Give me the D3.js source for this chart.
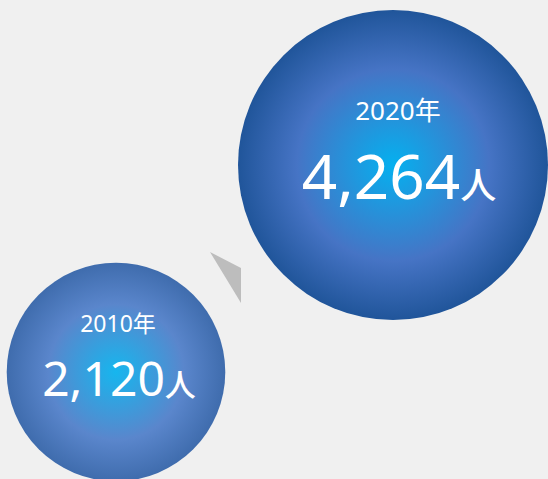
<!DOCTYPE html>
<html>
<head>
<meta charset="utf-8">
<script src="https://cdn.jsdelivr.net/npm/d3@7"></script>
<style>
  html, body { margin: 0; padding: 0; background: #f0f0f0; }
  svg { display: block; font-family: "Noto Sans", "Noto Sans CJK JP", sans-serif; }
</style>
</head>
<body>
<div id="chart"></div>
<script>
const years = ["2010年", "2020年"];
const values = [2120, 4264];
const unit = "人";

const width = 548, height = 479;

// circle areas follow the values
const r = d3.scaleSqrt().domain([0, 4264]).range([0, 155]);
const fmt = d3.format(",");

// where each bubble sits, and its text sizes
const layout = [
  { cx: 116, cy: 372, yearSize: 23, numSize: 48, unitSize: 31, yearDy: -40, numDy: 24, dx: 3,
    stops: ["#16b6ee", "#5a86cc", "#3f6cad"] },
  { cx: 393, cy: 165, yearSize: 26, numSize: 62, unitSize: 36, yearDy: -45, numDy: 34, dx: 6,
    stops: ["#05b0ef", "#4674c5", "#20559a"] }
];

const svg = d3.select('#chart').append('svg')
    .attr('width', width)
    .attr('height', height);

const defs = svg.append('defs');
layout.forEach((l, i) => {
  const g = defs.append('radialGradient').attr('id', 'grad' + i);
  g.append('stop').attr('offset', '0%').attr('stop-color', l.stops[0]);
  g.append('stop').attr('offset', '62%').attr('stop-color', l.stops[1]);
  g.append('stop').attr('offset', '100%').attr('stop-color', l.stops[2]);
});

// grey arrow between the two bubbles
svg.append('path')
    .attr('d', d3.line()([[210, 252], [241, 268], [241, 303]]) + 'Z')
    .attr('fill', '#bdbdbd');

const bubble = svg.selectAll('g.bubble')
    .data(values)
  .enter().append('g')
    .attr('class', 'bubble')
    .attr('transform', (d, i) => `translate(${layout[i].cx},${layout[i].cy})`);

bubble.append('circle')
    .attr('r', d => r(d))
    .attr('fill', (d, i) => `url(#grad${i})`);

bubble.append('text')
    .attr('x', (d, i) => layout[i].dx - 1)
    .attr('y', (d, i) => layout[i].yearDy)
    .attr('text-anchor', 'middle')
    .attr('fill', '#fff')
    .attr('font-size', (d, i) => layout[i].yearSize)
    .text((d, i) => years[i]);

const num = bubble.append('text')
    .attr('x', (d, i) => layout[i].dx)
    .attr('y', (d, i) => layout[i].numDy)
    .attr('text-anchor', 'middle')
    .attr('fill', '#fff');

num.append('tspan')
    .attr('font-size', (d, i) => layout[i].numSize)
    .text(d => fmt(d));

num.append('tspan')
    .attr('font-size', (d, i) => layout[i].unitSize)
    .attr('font-weight', 500)
    .text(unit);
</script>
</body>
</html>
